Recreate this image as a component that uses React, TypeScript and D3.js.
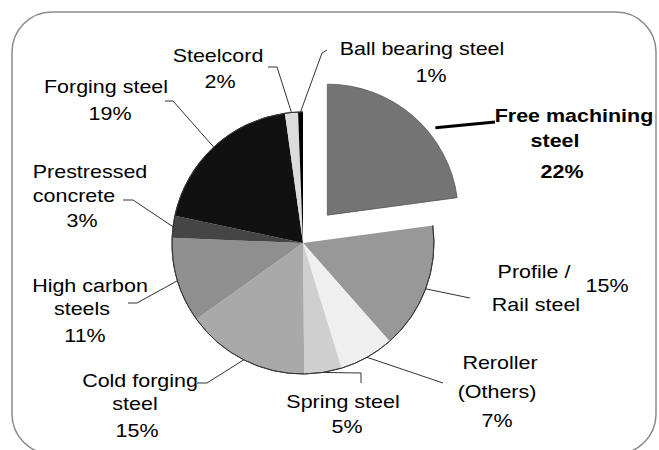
import React from 'react';
import * as d3 from 'd3';

// slice data, clockwise from 12 o'clock
const categories = [
  'Free machining steel', 'Profile / Rail steel', 'Reroller (Others)', 'Spring steel',
  'Cold forging steel', 'High carbon steels', 'Prestressed concrete', 'Forging steel',
  'Steelcord', 'Ball bearing steel',
];
const shares = [22.8, 15.6, 6.7, 4.6, 15.2, 10.5, 2.7, 19.4, 1.6, 0.6];
const pctLabels = ['22%', '15%', '7%', '5%', '15%', '11%', '3%', '19%', '2%', '1%'];
const labelLines = [
  ['Free machining', 'steel', '22%'],
  ['Profile /', 'Rail steel', '15%'],
  ['Reroller', '(Others)', '7%'],
  ['Spring steel', '5%'],
  ['Cold forging', 'steel', '15%'],
  ['High carbon', 'steels', '11%'],
  ['Prestressed', 'concrete', '3%'],
  ['Forging steel', '19%'],
  ['Steelcord', '2%'],
  ['Ball bearing steel', '1%'],
];
const colors = ['#747474', '#989898', '#efefef', '#cfcfcf', '#a9a9a9', '#8f8f8f', '#454545', '#111111', '#dcdcdc', '#000000'];

// layout (positions of label lines and leader elbows)
const linePos: number[][][] = [
  [[574, 122], [555, 147], [562, 178]],
  [[534, 278], [536, 311], [607, 292]],
  [[500, 369], [497, 398], [497, 427]],
  [[343, 408], [347, 433]],
  [[140, 387], [135, 410], [137, 437]],
  [[90, 292], [82, 315], [85, 342]],
  [[90, 178], [74, 202], [82, 227]],
  [[106, 93], [110, 120]],
  [[218, 62], [220, 88]],
  [[422, 55], [431, 82]],
];
const leaderEnds: number[][][] = [
  [[495, 122]],
  [[470, 298]],
  [[443, 383]],
  [[361, 373], [361, 383]],
  [[207, 383], [197, 383]],
  [[137, 303], [128, 303]],
  [[133, 200], [123, 200]],
  [[173, 101], [165, 101]],
  [[277, 67], [268, 67]],
  [[322, 53], [327, 50]],
];

const W = 659;
const H = 450;
const cx = 303;
const cy = 243;
const R = 131;
const explode = 37;

export default function App() {
  const pie = d3.pie<number>().sort(null).value(d => d).startAngle(0).endAngle(2 * Math.PI);
  const arcs = pie(shares);
  const arc = d3.arc<d3.PieArcDatum<number>>().innerRadius(0).outerRadius(R);
  const rim = d3.arc<d3.PieArcDatum<number>>().innerRadius(R).outerRadius(R);

  const offset = (i: number) => {
    if (i !== 0) return [0, 0];
    const a = (arcs[0].startAngle + arcs[0].endAngle) / 2;
    return [explode * Math.sin(a), -explode * Math.cos(a)];
  };

  const leaderStart = (i: number) => {
    const [ox, oy] = offset(i);
    let a = (arcs[i].startAngle + arcs[i].endAngle) / 2;
    let r = R;
    if (i === 0) { a = (51 * Math.PI) / 180; r = R + 8; }
    return [cx + ox + r * Math.sin(a), cy + oy - r * Math.cos(a)];
  };

  const font = "'Liberation Sans', Arial, sans-serif";

  return (
    <svg width={W} height={H} style={{ position: 'absolute', left: 0, top: 0, background: '#fff' }}>
      <rect x={12} y={12} width={644} height={442} rx={40} ry={40} fill="#fff" stroke="#8a8a8a" strokeWidth={1.5} />
      {arcs.map((d, i) => {
        const [ox, oy] = offset(i);
        return (
          <g key={categories[i]} transform={`translate(${cx + ox},${cy + oy})`}>
            <path d={arc(d) || ''} fill={colors[i]} stroke={i === 0 ? '#555' : 'none'} strokeWidth={0.8} />
            {i !== 0 && <path d={rim(d) || ''} fill="none" stroke="#333" strokeWidth={0.9} />}
          </g>
        );
      })}
      {arcs.map((d, i) => {
        const pts = [leaderStart(i), ...leaderEnds[i]];
        return (
          <path
            key={`l-${i}`}
            d={d3.line()(pts as [number, number][]) || ''}
            fill="none"
            stroke={i === 0 ? '#000' : '#333'}
            strokeWidth={i === 0 ? 3 : 1}
          />
        );
      })}
      {labelLines.map((lines, i) =>
        lines.map((t, j) => (
          <text
            key={`t-${i}-${j}`}
            transform={`translate(${linePos[i][j][0]},${linePos[i][j][1]}) scale(1.13,1)`}
            textAnchor="middle"
            fontFamily={font}
            fontSize={19}
            fontWeight={i === 0 ? 'bold' : 'normal'}
            fill="#000"
          >
            {t}
          </text>
        ))
      )}
      <title>{categories.map((c, i) => `${c} ${pctLabels[i]}`).join(', ')}</title>
    </svg>
  );
}
